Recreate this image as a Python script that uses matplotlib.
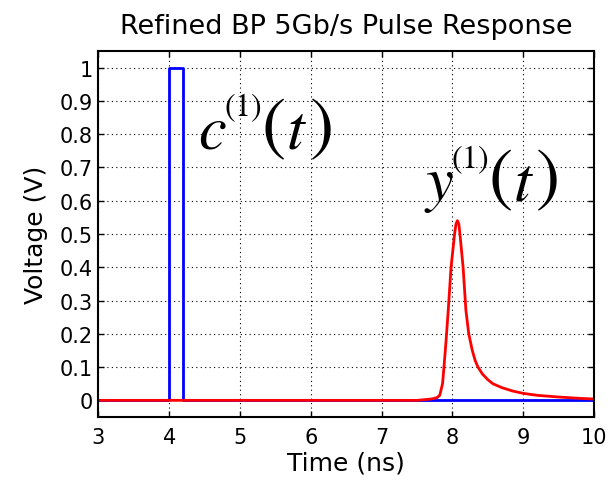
import numpy as np
import matplotlib
matplotlib.use("Agg")
import matplotlib.pyplot as plt

plt.rcParams['font.family'] = ['DejaVu Sans']
plt.rcParams['mathtext.fontset'] = 'stix'

# input pulse c(1)(t): one 0.2 ns bit at 5 Gb/s
pulse_t = [3.0, 4.0, 4.0, 4.2, 4.2, 10.0]
pulse_v = [0.0, 0.0, 1.0, 1.0, 0.0, 0.0]

# pulse response y(1)(t)
resp_t = [3.0, 7.5, 7.6, 7.7, 7.78, 7.82, 7.86, 7.88, 7.91, 7.94, 7.98, 8.01,
          8.03, 8.05, 8.07, 8.09, 8.11, 8.15, 8.19, 8.23, 8.28, 8.32, 8.36,
          8.42, 8.5, 8.57, 8.7, 8.85, 9.0, 9.2, 9.5, 9.8, 10.0]
resp_v = [0.0, 0.0, 0.002, 0.004, 0.008, 0.015, 0.05, 0.1, 0.18, 0.27, 0.4,
          0.46, 0.5, 0.53, 0.54, 0.53, 0.49, 0.4, 0.27, 0.2, 0.15, 0.12, 0.1,
          0.08, 0.062, 0.05, 0.038, 0.028, 0.021, 0.015, 0.01, 0.006, 0.004]

xticks = np.arange(3, 11, 1)
yticks = np.round(np.arange(0, 1.01, 0.1), 1)
ytick_labels = ['0'] + ['%.1f' % v for v in yticks[1:-1]] + ['1']

fig = plt.figure(figsize=(6.15, 4.81), dpi=100)
ax = fig.add_axes([0.160, 0.131, 0.806, 0.761])

ax.plot(pulse_t, pulse_v, color='#0000ff', lw=2.0)
ax.plot(resp_t, resp_v, color='#ff0000', lw=2.0)

ax.set_xlim(3, 10)
ax.set_ylim(-0.05, 1.05)
ax.set_xticks(xticks)
ax.set_yticks(yticks)
ax.set_yticklabels(ytick_labels)
ax.tick_params(labelsize=15, direction='in', length=4, width=1,
               top=True, right=True)
ax.tick_params(axis='x', pad=7)
ax.tick_params(axis='y', pad=4)
ax.grid(True, color='k', linestyle=(0, (1, 3)), linewidth=0.8)
for s in ax.spines.values():
    s.set_linewidth(1.5)

ax.set_xlabel('Time (ns)', fontsize=18, labelpad=3)
ax.set_ylabel('Voltage (V)', fontsize=18, labelpad=8)
ax.set_title('Refined BP 5Gb/s Pulse Response', fontsize=19.5, pad=13)


def big_label(x, y, name):
    # name^(1)(t) with tall brackets, pieces offset from one anchor
    pieces = [('$%s$' % name, 0, 0, 45),
              ('$(1)$', 19, 23, 23),
              ('$($', 46, 1, 52),
              ('$t$', 64, 0, 46),
              ('$)$', 80, 1, 52)]
    for s, dx, dy, fs in pieces:
        ax.annotate(s, (x, y), xytext=(dx, dy), textcoords='offset points',
                    fontsize=fs, ha='left', va='baseline')


big_label(4.40, 0.76, 'c')
big_label(7.60, 0.605, 'y')

fig.savefig('out.png', dpi=100)
